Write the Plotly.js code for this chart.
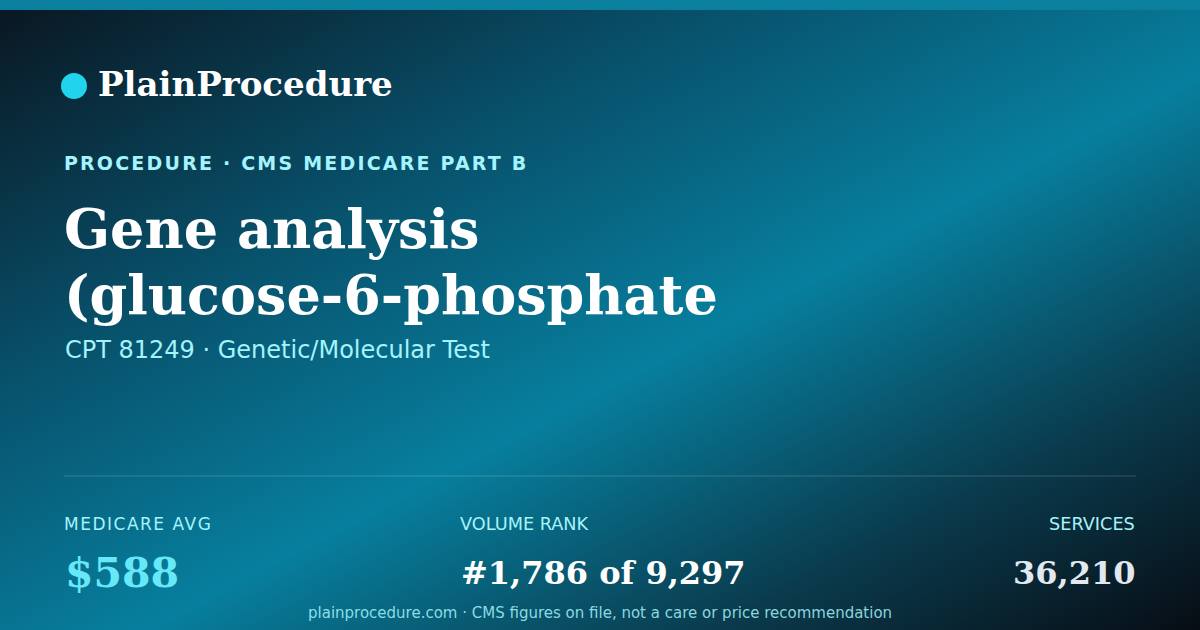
<!DOCTYPE html>
<html>
<head>
<meta charset="utf-8">
<script src="https://cdn.plot.ly/plotly-3.0.1.min.js"></script>
<style>
  html, body { margin: 0; padding: 0; background: #0a1820; }
  #card {
    width: 1200px; height: 630px;
    background: linear-gradient(to bottom right, #0a1620 0%, #08506a 30%, #077f9e 56%, #0a3a4c 80%, #070d14 100%);
  }
  /* tracked caps: kicker and first stat label */
  g.annotation[data-index="1"] text { letter-spacing: 2.2px; }
  g.annotation[data-index="5"] text { letter-spacing: 1.5px; }
</style>
</head>
<body>
<div id="card"></div>
<script>
  // card content
  var brand = "PlainProcedure";
  var kicker = "PROCEDURE · CMS MEDICARE PART B";
  var titleLines = ["Gene analysis", "(glucose-6-phosphate"];
  var subtitle = "CPT 81249 · Genetic/Molecular Test";
  var statLabels = ["MEDICARE AVG", "VOLUME RANK", "SERVICES"];
  var statValues = ["$588", "#1,786 of 9,297", "36,210"];
  var footer = "plainprocedure.com · CMS figures on file, not a care or price recommendation";

  var serif = "DejaVu Serif, serif";
  var sans = "DejaVu Sans, sans-serif";
  var cyan = "#a5f3fc";

  var statX = [64, 460, 1136];
  var statAnchor = ["left", "left", "right"];
  var statColors = ["#67e8f9", "#ffffff", "#e2e8f0"];
  var statSizes = [41, 32, 32];
  var labelSizes = [17, 17.7, 17.7];
  var labelSpacing = [1.5, 0, 0];

  var ann = [];
  function txt(text, x, y, size, color, family, anchor) {
    ann.push({
      text: text, x: x, y: y, xref: "x", yref: "y",
      xanchor: anchor || "left", yanchor: "middle",
      showarrow: false, borderpad: 0,
      font: { size: size, color: color, family: family }
    });
  }

  // letter-spacing widens text around its centre, so nudge left-anchored runs right
  function nudge(s, ls) { return s.length * ls / 2; }

  txt("<b>" + brand + "</b>", 97, 84, 34, "#ffffff", serif);
  txt("<b>" + kicker + "</b>", 63 + nudge(kicker, 2.2), 163, 19, cyan, sans);
  for (var i = 0; i < titleLines.length; i++) {
    txt("<b>" + titleLines[i] + "</b>", 63, 229 + i * 66, 54, "#ffffff", serif);
  }
  txt(subtitle, 64, 350, 24, cyan, sans);
  for (var j = 0; j < statLabels.length; j++) {
    var lx = statAnchor[j] === "left" ? statX[j] - 1 + nudge(statLabels[j], labelSpacing[j]) : statX[j];
    txt(statLabels[j], lx, 524, labelSizes[j], cyan, sans, statAnchor[j]);
    txt("<b>" + statValues[j] + "</b>", statX[j], 573, statSizes[j], statColors[j], serif, statAnchor[j]);
  }
  txt(footer, 600, 613, 15, "rgba(165,243,252,0.85)", sans, "center");

  var shapes = [
    { type: "rect", xref: "x", yref: "y", x0: 0, x1: 1200, y0: 0, y1: 10,
      fillcolor: "#0a7f9e", line: { width: 0 } },
    { type: "circle", xref: "x", yref: "y", x0: 61, x1: 87, y0: 73, y1: 99,
      fillcolor: "#22d3ee", line: { width: 0 } },
    { type: "line", xref: "x", yref: "y", x0: 64, x1: 1136, y0: 476, y1: 476,
      line: { color: "rgba(255,255,255,0.18)", width: 1 } }
  ];

  Plotly.newPlot("card", [], {
    width: 1200, height: 630,
    margin: { l: 0, r: 0, t: 0, b: 0 },
    paper_bgcolor: "rgba(0,0,0,0)",
    plot_bgcolor: "rgba(0,0,0,0)",
    xaxis: { range: [0, 1200], visible: false, fixedrange: true },
    yaxis: { range: [630, 0], visible: false, fixedrange: true },
    annotations: ann,
    shapes: shapes,
    showlegend: false
  }, { staticPlot: true });
</script>
</body>
</html>
